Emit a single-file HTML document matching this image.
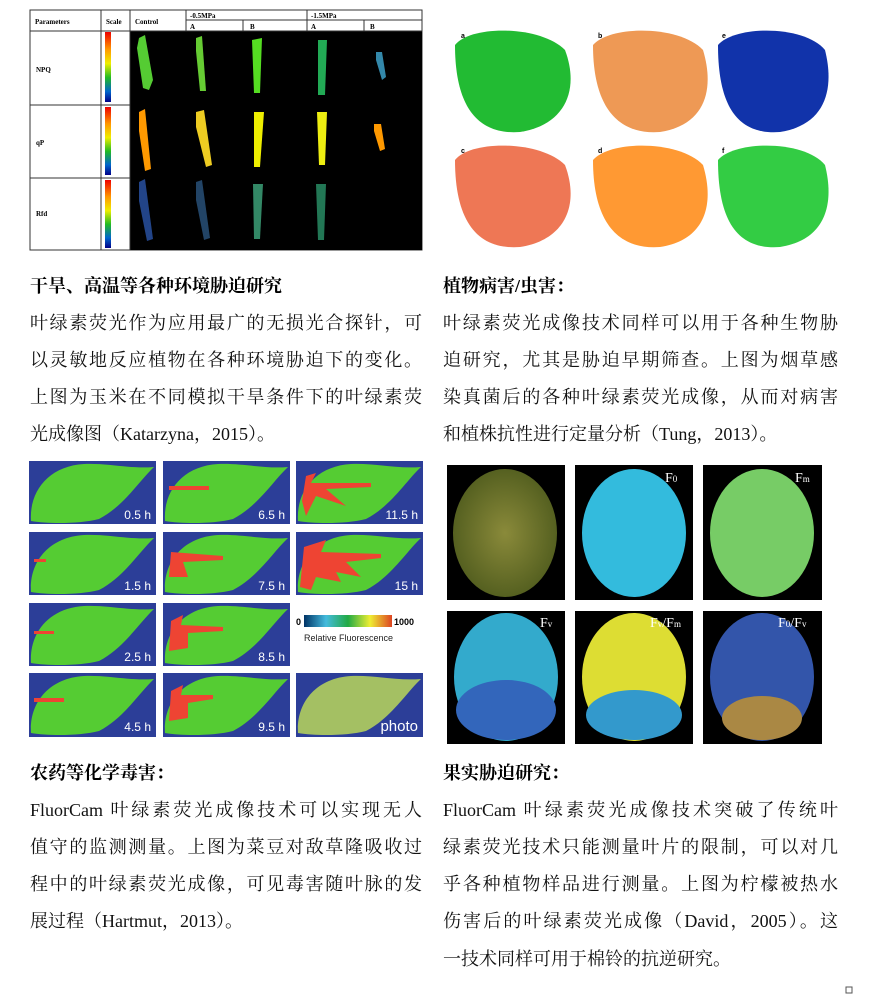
<!DOCTYPE html>
<html><head><meta charset="utf-8"><style>
body{margin:0;background:#fff;width:873px;height:1008px;position:relative;overflow:hidden;font-family:"Liberation Serif","Noto Serif CJK SC",serif;}
.t{position:absolute;font-size:18px;color:#111;white-space:nowrap;text-align:justify;text-align-last:justify;}
.h{position:absolute;font-size:18px;font-weight:bold;color:#000;}
svg{position:absolute;left:0;top:0}
</style></head><body>
<svg width="873" height="1008" viewBox="0 0 873 1008">
<defs>
<linearGradient id="sc" x1="0" y1="0" x2="0" y2="1"><stop offset="0" stop-color="#e00"/><stop offset=".25" stop-color="#f90"/><stop offset=".45" stop-color="#ee0"/><stop offset=".65" stop-color="#2b2"/><stop offset=".85" stop-color="#06c"/><stop offset="1" stop-color="#008"/></linearGradient>
<linearGradient id="rf" x1="0" y1="0" x2="1" y2="0"><stop offset="0" stop-color="#036"/><stop offset=".25" stop-color="#4bd"/><stop offset=".5" stop-color="#2a4"/><stop offset=".75" stop-color="#ee3"/><stop offset="1" stop-color="#d42"/></linearGradient>
<path id="leaf" d="M2,60 C0,30 20,5 55,3 C80,2 100,8 125,6 C110,20 95,45 70,58 C50,63 20,63 2,60 Z"/>
<radialGradient id="lem1"><stop offset="0" stop-color="#8a8a3a"/><stop offset="1" stop-color="#556020"/></radialGradient>
</defs>
<!-- top-left table -->
<rect x="30" y="10" width="392" height="240" fill="#fff" stroke="#333"/>
<rect x="130" y="31" width="292" height="219" fill="#000"/>
<g stroke="#333" stroke-width="1" fill="none">
<line x1="30" y1="31" x2="422" y2="31"/><line x1="186" y1="20" x2="422" y2="20"/>
<line x1="101" y1="10" x2="101" y2="250"/><line x1="130" y1="10" x2="130" y2="250"/>
<line x1="186" y1="10" x2="186" y2="31"/><line x1="243" y1="20" x2="243" y2="31"/>
<line x1="307" y1="10" x2="307" y2="31"/><line x1="364" y1="20" x2="364" y2="31"/>
<line x1="30" y1="105" x2="130" y2="105"/><line x1="30" y1="178" x2="130" y2="178"/>
</g>
<g font-size="7" font-weight="bold" fill="#000" font-family="Liberation Serif">
<text x="35" y="24">Parameters</text><text x="106" y="24">Scale</text><text x="135" y="24">Control</text>
<text x="190" y="18">-0.5MPa</text><text x="311" y="18">-1.5MPa</text>
<text x="190" y="29">A</text><text x="250" y="29">B</text><text x="311" y="29">A</text><text x="370" y="29">B</text>
<text x="36" y="72">NPQ</text><text x="36" y="145">qP</text><text x="36" y="216">Rfd</text>
</g>
<rect x="105" y="32" width="6" height="70" fill="url(#sc)"/><rect x="105" y="107" width="6" height="68" fill="url(#sc)"/><rect x="105" y="180" width="6" height="68" fill="url(#sc)"/>
<g>
<path d="M139,38 l6,-3 8,45 -4,10 -6,-2 -6,-40z" fill="#5c3"/>
<path d="M196,38 l6,-2 4,55 -6,0 -4,-40z" fill="#6c3"/>
<path d="M252,40 l10,-2 -2,55 -6,0 z" fill="#5d2"/>
<path d="M318,40 l9,0 -2,55 -7,0 z" fill="#2a5"/>
<path d="M376,52 l6,0 4,25 -4,3 -6,-20z" fill="#38a"/>
<path d="M139,112 l6,-3 6,60 -6,2 -6,-40z" fill="#f90"/>
<path d="M196,112 l8,-2 8,55 -6,2 -10,-40z" fill="#ec2"/>
<path d="M254,112 l10,0 -4,55 -6,0 z" fill="#ee0"/>
<path d="M317,112 l10,0 -2,53 -6,0 z" fill="#ee1"/>
<path d="M374,124 l7,0 4,25 -5,2 -6,-20z" fill="#f90"/>
<path d="M139,182 l6,-3 8,60 -6,2 -8,-40z" fill="#248"/>
<path d="M196,182 l6,-2 8,58 -6,2 -8,-40z" fill="#246"/>
<path d="M253,184 l10,0 -3,55 -6,0 z" fill="#386"/>
<path d="M316,184 l10,0 -2,56 -6,0 z" fill="#275"/>
</g>
<!-- top-right panels -->
<g font-size="7" font-weight="bold" font-family="Liberation Sans">
<path d="M455,45 C470,25 540,25 565,50 C580,90 565,125 520,132 C480,135 455,110 455,45Z" fill="#2b3"/>
<path d="M593,45 C610,25 680,25 703,50 C715,90 705,125 660,132 C620,135 593,110 593,45Z" fill="#e95"/>
<path d="M718,45 C735,25 805,25 825,50 C835,90 825,125 780,132 C740,135 718,110 718,45Z" fill="#13a"/>
<path d="M455,160 C470,140 540,140 565,165 C580,205 565,240 520,247 C480,250 455,225 455,160Z" fill="#e75"/>
<path d="M593,160 C610,140 680,140 703,165 C715,205 705,240 660,247 C620,250 593,225 593,160Z" fill="#f93"/>
<path d="M718,160 C735,140 805,140 825,165 C835,205 825,240 780,247 C740,250 718,225 718,160Z" fill="#3c4"/>
<text x="461" y="38">a</text><text x="598" y="38">b</text><text x="722" y="38">e</text>
<text x="461" y="153">c</text><text x="598" y="153">d</text><text x="722" y="153">f</text>
</g>
<!-- leaf grid -->
<g>
<g transform="translate(29,461)"><rect width="127" height="63" fill="#2c3e98"/><use href="#leaf" fill="#5c3"/><text x="122" y="58" text-anchor="end" font-size="12" fill="#fff" font-family="Liberation Sans">0.5 h</text></g>
<g transform="translate(163,461)"><rect width="127" height="63" fill="#2c3e98"/><use href="#leaf" fill="#5c3"/><path d="M6,25 h40 v4 h-40z" fill="#e43"/><text x="122" y="58" text-anchor="end" font-size="12" fill="#fff" font-family="Liberation Sans">6.5 h</text></g>
<g transform="translate(296,461)"><rect width="127" height="63" fill="#2c3e98"/><use href="#leaf" fill="#5c3"/><path d="M6,40 L10,15 20,12 15,22 75,22 75,26 30,28 50,45 35,40 20,35 10,55Z" fill="#e43"/><text x="122" y="58" text-anchor="end" font-size="12" fill="#fff" font-family="Liberation Sans">11.5 h</text></g>
<g transform="translate(29,532)"><rect width="127" height="63" fill="#2c3e98"/><use href="#leaf" fill="#5c3"/><path d="M5,27 h12 v3 h-12z" fill="#e43"/><text x="122" y="58" text-anchor="end" font-size="12" fill="#fff" font-family="Liberation Sans">1.5 h</text></g>
<g transform="translate(163,532)"><rect width="127" height="63" fill="#2c3e98"/><use href="#leaf" fill="#5c3"/><path d="M6,45 L8,20 60,24 60,28 20,30 25,45Z" fill="#e43"/><text x="122" y="58" text-anchor="end" font-size="12" fill="#fff" font-family="Liberation Sans">7.5 h</text></g>
<g transform="translate(296,532)"><rect width="127" height="63" fill="#2c3e98"/><use href="#leaf" fill="#5c3"/><path d="M4,55 L8,15 30,8 25,20 85,22 85,26 50,30 65,45 40,40 45,50 20,45 15,58Z" fill="#e43"/><text x="122" y="58" text-anchor="end" font-size="12" fill="#fff" font-family="Liberation Sans">15 h</text></g>
<g transform="translate(29,603)"><rect width="127" height="63" fill="#2c3e98"/><use href="#leaf" fill="#5c3"/><path d="M5,28 h20 v3 h-20z" fill="#e43"/><text x="122" y="58" text-anchor="end" font-size="12" fill="#fff" font-family="Liberation Sans">2.5 h</text></g>
<g transform="translate(163,603)"><rect width="127" height="63" fill="#2c3e98"/><use href="#leaf" fill="#5c3"/><path d="M6,48 L8,18 20,12 18,22 60,24 60,28 25,30 25,45Z" fill="#e43"/><text x="122" y="58" text-anchor="end" font-size="12" fill="#fff" font-family="Liberation Sans">8.5 h</text></g>
<g transform="translate(296,603)"><rect width="127" height="63" fill="#fff"/><rect x="8" y="12" width="88" height="12" fill="url(#rf)"/><text x="0" y="22" font-size="9" font-weight="bold" font-family="Liberation Sans">0</text><text x="98" y="22" font-size="9" font-weight="bold" font-family="Liberation Sans">1000</text><text x="8" y="38" font-size="9" font-family="Liberation Sans" fill="#222">Relative Fluorescence</text></g>
<g transform="translate(29,673)"><rect width="127" height="64" fill="#2c3e98"/><use href="#leaf" fill="#5c3"/><path d="M5,25 h30 v4 h-30z" fill="#e43"/><text x="122" y="58" text-anchor="end" font-size="12" fill="#fff" font-family="Liberation Sans">4.5 h</text></g>
<g transform="translate(163,673)"><rect width="127" height="64" fill="#2c3e98"/><use href="#leaf" fill="#5c3"/><path d="M6,48 L8,18 20,12 18,22 50,22 50,26 25,30 25,45Z" fill="#e43"/><text x="122" y="58" text-anchor="end" font-size="12" fill="#fff" font-family="Liberation Sans">9.5 h</text></g>
<g transform="translate(296,673)"><rect width="127" height="64" fill="#2c3e98"/><use href="#leaf" fill="#a4c063"/><text x="122" y="58" text-anchor="end" font-size="15" fill="#fff" font-family="Liberation Sans">photo</text></g>
</g>
<!-- lemons -->
<g>
<rect x="447" y="465" width="118" height="135" fill="#000"/><rect x="575" y="465" width="118" height="135" fill="#000"/><rect x="703" y="465" width="119" height="135" fill="#000"/>
<rect x="447" y="611" width="118" height="133" fill="#000"/><rect x="575" y="611" width="118" height="133" fill="#000"/><rect x="703" y="611" width="119" height="133" fill="#000"/>
<ellipse cx="505" cy="533" rx="52" ry="64" fill="url(#lem1)"/>
<ellipse cx="634" cy="533" rx="52" ry="64" fill="#3bd"/>
<ellipse cx="762" cy="533" rx="52" ry="64" fill="#7c6"/>
<ellipse cx="506" cy="677" rx="52" ry="64" fill="#3ac"/><ellipse cx="506" cy="710" rx="50" ry="30" fill="#36b"/>
<ellipse cx="634" cy="677" rx="52" ry="64" fill="#dd3"/><ellipse cx="634" cy="715" rx="48" ry="25" fill="#39c"/>
<ellipse cx="762" cy="677" rx="52" ry="64" fill="#35a"/><ellipse cx="762" cy="718" rx="40" ry="22" fill="#a84"/>
<g fill="#fff" font-size="14" font-family="Liberation Serif"><text x="665" y="482">F<tspan font-size="9">0</tspan></text><text x="795" y="482">F<tspan font-size="9">m</tspan></text><text x="540" y="627">F<tspan font-size="9">v</tspan></text><text x="650" y="627">F<tspan font-size="9">v</tspan>/F<tspan font-size="9">m</tspan></text><text x="778" y="627">F<tspan font-size="9">0</tspan>/F<tspan font-size="9">v</tspan></text></g>
</g>
<rect x="846" y="987" width="6" height="6" fill="none" stroke="#555" stroke-width="1"/>
</svg>

<div class="h" style="left:30px;top:272px">干旱、高温等各种环境胁迫研究</div>
<div class="h" style="left:443px;top:272px">植物病害/虫害：</div>
<div class="t" style="left:30px;top:309px;width:392px">叶绿素荧光作为应用最广的无损光合探针，可</div>
<div class="t" style="left:30px;top:346px;width:392px">以灵敏地反应植物在各种环境胁迫下的变化。</div>
<div class="t" style="left:30px;top:383px;width:392px">上图为玉米在不同模拟干旱条件下的叶绿素荧</div>
<div class="t" style="left:30px;top:420px;">光成像图（Katarzyna，2015）。</div>
<div class="t" style="left:443px;top:309px;width:395px">叶绿素荧光成像技术同样可以用于各种生物胁</div>
<div class="t" style="left:443px;top:346px;width:395px">迫研究，尤其是胁迫早期筛查。上图为烟草感</div>
<div class="t" style="left:443px;top:383px;width:395px">染真菌后的各种叶绿素荧光成像，从而对病害</div>
<div class="t" style="left:443px;top:420px;">和植株抗性进行定量分析（Tung，2013）。</div>

<div class="h" style="left:30px;top:759px">农药等化学毒害：</div>
<div class="h" style="left:443px;top:759px">果实胁迫研究：</div>
<div class="t" style="left:30px;top:796px;width:392px">FluorCam 叶绿素荧光成像技术可以实现无人</div>
<div class="t" style="left:30px;top:833px;width:392px">值守的监测测量。上图为菜豆对敌草隆吸收过</div>
<div class="t" style="left:30px;top:870px;width:392px">程中的叶绿素荧光成像，可见毒害随叶脉的发</div>
<div class="t" style="left:30px;top:907px;">展过程（Hartmut，2013）。</div>
<div class="t" style="left:443px;top:796px;width:395px">FluorCam 叶绿素荧光成像技术突破了传统叶</div>
<div class="t" style="left:443px;top:833px;width:395px">绿素荧光技术只能测量叶片的限制，可以对几</div>
<div class="t" style="left:443px;top:870px;width:395px">乎各种植物样品进行测量。上图为柠檬被热水</div>
<div class="t" style="left:443px;top:907px;width:395px">伤害后的叶绿素荧光成像（David，2005）。这</div>
<div class="t" style="left:443px;top:945px;">一技术同样可用于棉铃的抗逆研究。</div>
</body></html>
